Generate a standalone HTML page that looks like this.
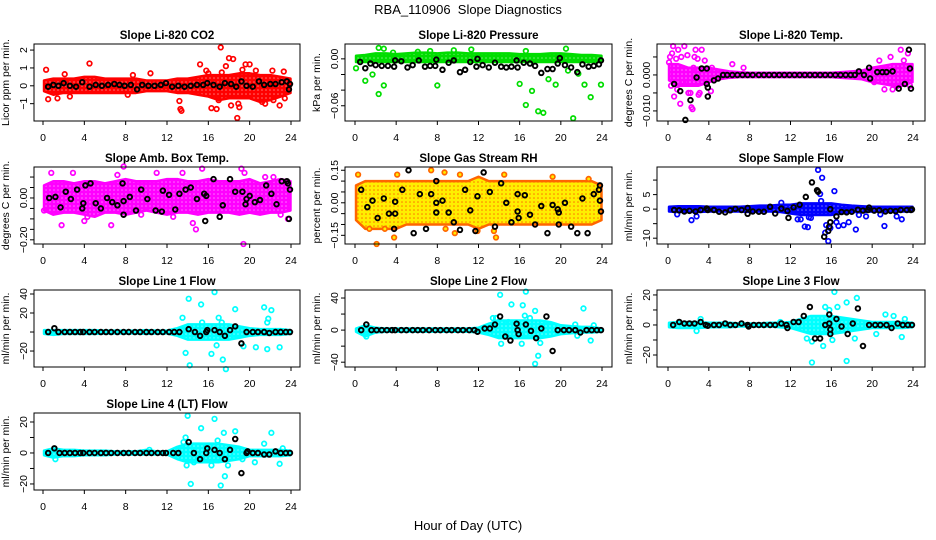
<!DOCTYPE html>
<html><head><meta charset="utf-8"><style>
html,body{margin:0;padding:0;background:#fff;}
svg{display:block;font-family:"Liberation Sans",sans-serif;}
</style></head><body>
<svg id="chart" width="936" height="540" viewBox="0 0 936 540">
<defs id="defs"></defs>
<rect width="936" height="540" fill="#fff"/>
<text x="468" y="14" text-anchor="middle" font-size="13">RBA_110906&#160; Slope Diagnostics</text>
<text x="468" y="530" text-anchor="middle" font-size="13">Hour of Day (UTC)</text>
</svg>
<script>
// ---------- data ----------
const hourTicks = [0,4,8,12,16,20,24];
const bandHours = [0,1,2,3,4,5,6,7,8,9,10,11,12,13,14,15,16,17,18,19,20,21,22,23,24];

// Panel 1 CO2
const co2Lo = [-0.3,-0.5,-0.4,-0.4,-0.4,-0.4,-0.4,-0.4,-0.4,-0.4,-0.3,-0.3,-0.3,-0.4,-0.4,-0.5,-0.6,-0.8,-0.7,-0.7,-0.7,-0.9,-0.8,-0.6,-0.4];
const co2Hi = [0.3,0.4,0.4,0.4,0.5,0.5,0.4,0.4,0.4,0.4,0.3,0.3,0.3,0.4,0.4,0.5,0.6,0.6,0.6,0.7,0.7,0.6,0.6,0.5,0.4];
const co2Out = [[0.3,0.9],[0.5,-0.75],[1.4,-0.7],[2.1,0.65],[2.6,-0.6],[4.5,1.25],[8.2,-0.5],[8.7,0.6],[10.4,0.7],[13.2,-0.85],[13.3,-1.3],[13.4,-1.4],[15.2,1.2],[15.8,0.85],[16.3,-1.25],[16.8,-1.3],[17.2,2.15],[17.3,0.75],[17.7,1.1],[18.0,1.55],[18.4,1.5],[18.2,-1.1],[18.8,-1.8],[18.9,-1.0],[19.0,-1.2],[19.3,0.9],[19.6,1.2],[20.0,1.2],[20.6,0.85],[21.2,-0.9],[22.2,0.85],[22.3,-0.8],[22.9,-1.1],[23.3,0.8],[23.4,-0.7],[21.5,-1.0],[17.0,-0.8],[16.0,0.7]];
const co2Black = [[0.5,-0.05],[1,0.05],[1.5,0],[2,0.15],[2.6,0],[3.2,-0.05],[3.8,0.2],[4.5,-0.05],[5.1,0.05],[5.7,0],[6.3,0.05],[6.9,0.1],[7.4,0.05],[7.9,0.0],[8.5,0.05],[9.1,-0.2],[9.6,0.05],[10.2,0],[10.8,0],[11.4,0.05],[11.9,0.15],[12.5,-0.05],[13.1,0],[13.7,-0.05],[14.3,0],[14.9,0.05],[15.5,0.05],[15.9,0.15],[16.5,0.05],[17.1,-0.05],[17.6,0.15],[18.2,0.1],[18.7,-0.05],[19.2,0.25],[19.7,0.0],[20.3,-0.05],[20.9,0.25],[21.4,0.05],[22.0,0.1],[22.5,0.1],[23.1,0.2],[23.6,0.25],[23.8,-0.2],[23.9,0.1]];
const co2Ticks = [-1,0,1,2];

// Panel 2 Pressure
const presLo = [-0.004,-0.004,-0.004,-0.004,-0.004,-0.004,-0.004,-0.004,-0.004,-0.004,-0.004,-0.004,-0.004,-0.004,-0.004,-0.004,-0.004,-0.004,-0.004,-0.004,-0.004,-0.004,-0.004,-0.004,-0.004];
const presHi = [0.004,0.005,0.007,0.007,0.006,0.007,0.008,0.008,0.007,0.008,0.008,0.007,0.007,0.007,0.007,0.007,0.006,0.006,0.006,0.007,0.007,0.006,0.005,0.005,0.004];
const presOut = [[0.1,-0.012],[1.0,-0.028],[1.7,-0.020],[2.3,0.014],[2.3,-0.045],[2.8,0.013],[2.8,-0.034],[8.0,-0.034],[9.6,0.011],[11.3,0.012],[16.0,-0.032],[16.6,-0.059],[16.6,0.01],[17.2,-0.041],[17.8,-0.067],[18.3,-0.069],[18.8,-0.026],[19.5,-0.033],[20.5,0.013],[21.2,-0.076],[22.3,-0.033],[22.9,-0.049],[23.9,-0.033],[20.7,-0.015],[21.7,-0.019],[3.7,0.008],[6.1,0.009],[7.3,0.01]];
const presBlack = [[0.5,-0.004],[1,-0.012],[1.5,-0.006],[2,-0.008],[2.6,-0.009],[3.2,-0.009],[3.8,-0.01],[3.9,-0.002],[4.5,-0.003],[5.1,-0.011],[5.6,-0.008],[6.2,-0.002],[6.8,-0.01],[7.3,-0.009],[7.8,-0.009],[7.9,-0.001],[8.5,-0.014],[9.1,-0.005],[9.6,-0.002],[10.2,-0.017],[10.7,-0.014],[11.2,-0.004],[11.8,-0.01],[11.9,0],[12.4,-0.008],[13.0,-0.011],[13.6,-0.005],[14.2,-0.01],[14.7,-0.011],[15.2,-0.01],[15.7,-0.002],[15.8,-0.011],[16.4,-0.005],[17.0,-0.006],[17.5,-0.009],[18.1,-0.018],[18.7,-0.013],[19.2,-0.013],[19.7,-0.006],[19.9,0.001],[20.4,-0.008],[21.0,-0.011],[21.6,-0.017],[22.1,-0.007],[22.7,-0.01],[23.2,-0.009],[23.7,-0.007],[23.9,-0.002]];
const presTicks = [-0.06,-0.04,-0.02,0.00];

// Panel 3 Li-820 Temp
const tempLo = [-0.0015,-0.003,-0.003,-0.003,-0.002,-0.0012,-0.0008,-0.0006,-0.0006,-0.0006,-0.0006,-0.0006,-0.0006,-0.0006,-0.0006,-0.0006,-0.0006,-0.0008,-0.001,-0.0012,-0.002,-0.0025,-0.003,-0.003,-0.002];
const tempHi = [0.003,0.003,0.002,0.002,0.002,0.0015,0.001,0.0008,0.0006,0.0006,0.0006,0.0006,0.0006,0.0006,0.0006,0.0006,0.0006,0.0008,0.001,0.0012,0.002,0.0025,0.003,0.003,0.003];
const tempOut = [[0.2,0.005],[0.5,0.008],[1.0,0.007],[1.6,0.008],[0.3,-0.003],[0.6,-0.006],[1.2,-0.008],[2.3,-0.009],[2.4,-0.0095],[2.7,0.007],[3.3,0.007],[6.3,0.003],[7.4,0.002],[22.8,0.007],[23.5,0.006],[21.2,-0.004],[22.0,-0.004],[23.1,0.004],[20.7,0.004],[3.0,-0.0055],[4.2,-0.0045],[0.1,0.0035],[0.4,0.006],[0.8,0.0045],[1.3,0.005],[1.9,0.0055],[2.0,-0.005],[2.2,-0.005],[2.6,0.005],[2.9,0.0045],[3.6,0.004],[3.1,-0.005],[0.9,-0.004],[1.5,-0.002],[2.5,0.002],[4.3,0.002],[21.8,0.005],[22.5,-0.003],[23.7,-0.003],[20.2,-0.002]];
const tempBlack = [[0.6,-0.0025],[1.2,-0.0045],[1.7,-0.0125],[2.2,-0.007],[2.8,-0.0007],[3.3,0.0018],[3.8,0.0018],[3.8,-0.0025],[3.9,-0.0035],[3.9,-0.006],[4.5,-0.0015],[4.9,-0.001],[5.4,0],[5.8,0],[6.3,0],[6.8,0],[7.3,0],[7.8,0],[8.3,0],[8.9,0],[9.4,0],[9.9,0],[10.4,0],[10.9,0],[11.4,0],[11.9,0],[12.4,0],[12.9,0],[13.4,0],[13.9,0],[14.4,0],[14.9,0],[15.4,0],[15.9,0],[16.4,0],[16.9,0],[17.4,0],[17.9,0],[18.3,0],[18.7,0.001],[19.2,0],[19.7,0.002],[19.8,-0.001],[20.5,0.0008],[21.0,0.0008],[21.4,0.0008],[22.0,0.001],[22.6,-0.0038],[23.2,-0.0025],[23.6,0.007],[23.7,0.0018],[23.8,-0.0038]];
const tempTicks = [-0.010,-0.005,0.000,0.005];

// Panel 4 Amb Box Temp
const ambLo = [-0.06,-0.08,-0.07,-0.07,-0.08,-0.09,-0.07,-0.07,-0.08,-0.07,-0.06,-0.07,-0.08,-0.07,-0.07,-0.08,-0.07,-0.07,-0.07,-0.08,-0.07,-0.08,-0.07,-0.07,-0.06];
const ambHi = [0.06,0.08,0.08,0.07,0.08,0.08,0.07,0.08,0.09,0.08,0.08,0.08,0.09,0.09,0.08,0.08,0.09,0.08,0.08,0.08,0.09,0.07,0.08,0.09,0.08];
const ambOut = [[0.8,0.12],[2.9,0.12],[1.8,-0.13],[4.0,-0.11],[6.6,-0.13],[7.8,0.15],[7.2,0.11],[11.0,0.12],[13.5,0.12],[14.5,-0.12],[14.8,-0.15],[15.4,0.14],[19.2,0.14],[19.4,-0.22],[19.5,0.12],[21.5,0.1],[23.7,-0.1],[23.0,-0.08],[9.5,-0.08],[0.1,-0.06],[22.3,0.1],[4.3,-0.09],[12.6,-0.09]];
const ambBlack = [[0.6,0.0],[1.2,0.005],[1.7,-0.045],[2.2,0.03],[2.7,-0.005],[3.3,0.04],[3.8,-0.05],[3.9,-0.025],[4.1,0.06],[4.6,0.07],[5.1,-0.025],[5.6,-0.05],[6.2,0.0],[6.7,-0.02],[7.2,-0.035],[7.7,0.07],[7.8,-0.015],[7.8,-0.08],[8.4,0.005],[9.0,-0.06],[9.5,0.04],[10.1,-0.005],[10.9,-0.06],[11.5,-0.065],[11.6,0.035],[12.2,0.015],[12.8,-0.055],[13.2,0.02],[13.8,0.04],[14.3,0.05],[14.9,-0.005],[15.6,0.02],[15.7,-0.11],[15.8,0.01],[16.5,0.09],[17.1,-0.09],[17.4,-0.035],[18.1,0.09],[18.6,0.03],[19.3,0.03],[19.6,-0.03],[19.7,-0.005],[20.0,0.01],[20.5,-0.02],[21.0,-0.01],[21.6,0.06],[22.1,0.02],[22.6,-0.03],[23.1,0.08],[23.6,0.08],[23.7,0.07],[23.8,-0.1],[23.9,0.04]];
const ambTicks = [-0.20,-0.15,-0.10,-0.05,0.00,0.05,0.10];

// Panel 5 Gas Stream RH
const rhLo = [-0.08,-0.12,-0.12,-0.12,-0.12,-0.1,-0.1,-0.1,-0.1,-0.1,-0.1,-0.1,-0.12,-0.1,-0.1,-0.1,-0.1,-0.1,-0.1,-0.1,-0.1,-0.1,-0.1,-0.1,-0.08];
const rhHi = [0.08,0.1,0.1,0.1,0.1,0.1,0.1,0.1,0.1,0.1,0.1,0.1,0.12,0.1,0.1,0.1,0.1,0.1,0.1,0.1,0.1,0.1,0.1,0.1,0.08];
const rhOut = [[0.3,0.13],[2.1,-0.19],[3.8,-0.16],[4.1,0.13],[7.4,0.15],[8.7,0.14],[8.8,-0.12],[9.7,-0.14],[10.2,0.13],[11.9,-0.13],[13.5,-0.13],[13.7,-0.16],[14.5,0.13],[19.2,0.12],[1.4,-0.12],[2.9,-0.12],[22.7,0.11]];
const rhBlack = [[0.6,0.06],[1.2,-0.02],[1.7,0.01],[2.2,-0.07],[2.8,0.02],[3.3,-0.05],[3.8,-0.12],[3.9,0.005],[3.9,-0.05],[4.6,0.06],[5.2,0.15],[5.7,-0.14],[6.3,0.04],[6.9,-0.12],[7.4,0.04],[7.9,0.1],[7.9,0.0],[7.9,-0.045],[8.5,0.01],[9.1,-0.045],[9.6,-0.09],[10.2,-0.125],[10.7,0.06],[11.2,-0.035],[11.7,-0.13],[11.9,0.03],[12.5,0.14],[13.1,0.05],[13.6,-0.11],[14.2,0.09],[14.7,0.0],[15.2,-0.09],[15.8,0.04],[15.8,-0.04],[15.9,-0.07],[16.5,0.035],[17.0,-0.055],[17.5,-0.1],[18.1,-0.015],[18.7,-0.14],[19.2,-0.01],[19.7,-0.03],[19.8,-0.045],[19.8,-0.1],[20.4,0.0],[21.0,-0.11],[21.6,-0.14],[22.1,0.02],[22.6,-0.14],[23.2,0.04],[23.7,0.06],[23.8,0.08],[23.8,0.01],[23.9,-0.04]];
const rhTicks = [-0.15,-0.10,-0.05,0.00,0.05,0.10,0.15];

// Panel 6 Sample Flow
const sfLo = [-0.8,-1,-1,-1,-0.8,-0.8,-0.8,-0.8,-1,-0.8,-0.8,-1,-1.5,-2,-2,-2,-2,-1.5,-1,-1,-0.8,-0.8,-0.8,-0.8,-0.8];
const sfHi = [0.8,1,1,1,0.8,0.8,0.8,0.8,1,1.2,1.2,1.5,1.5,2,2,2,2,1.5,1.2,1,0.8,0.8,0.8,0.8,0.8];
const sfOut = [[0.9,-1.8],[2.3,-3.8],[2.8,-2.5],[11.1,2.2],[13.4,-6],[13.7,-6.2],[13.8,-2.8],[14.0,-3],[14.7,13.5],[14.9,5.2],[15.0,2.8],[15.1,10.8],[15.4,-8.1],[15.5,-5.5],[15.7,-11],[15.9,-6.5],[16.3,6.2],[16.5,-4.5],[16.7,-5.8],[17.2,-5.5],[17.7,-4.5],[18.4,-7],[18.7,-2],[19.4,-2.5],[20.8,-1.8],[21.2,-5.8],[22.4,-2.5],[22.9,-3.5],[12.7,-3.5],[13.0,-3.5]];
const sfBlack = [[0.6,-0.3],[1.1,-0.4],[1.6,-0.8],[2.1,-0.6],[2.7,-0.8],[3.2,-0.3],[3.8,0.2],[3.9,-0.3],[4.5,-0.3],[5.0,-0.9],[5.6,-1.1],[6.1,-0.4],[6.6,0.1],[7.2,-0.3],[7.8,0.4],[7.8,-1.6],[8.3,-0.8],[8.9,-0.9],[9.4,-0.9],[10.0,0.8],[10.5,-1.5],[11.1,0.2],[11.7,-0.6],[11.8,-3],[12.3,0.6],[12.9,1.5],[13.5,4.2],[14.1,9.2],[14.6,6.5],[14.7,6],[15.3,-9.5],[15.7,-7.5],[15.8,-6],[15.9,-4.5],[15.9,0],[16.5,-2.5],[17.0,-1],[17.5,-1.1],[18.0,-0.9],[18.6,-0.2],[19.1,-0.5],[19.6,-0.3],[19.7,0.5],[20.2,-0.5],[20.7,-0.4],[21.3,-0.8],[21.8,-0.6],[22.3,-0.7],[22.8,-0.3],[23.4,-0.3],[23.8,-0.3],[23.9,-0.1]];
const sfTicks = [-10,-5,0,5,10];

// Panel 7 Line 1 Flow
const l1Lo = [-2,-3,-2,-2,-2,-2,-1.5,-1.5,-1.5,-1.5,-2,-1.5,-1.5,-4,-8,-8,-8,-8,-8,-6,-4,-3,-3,-3,-2];
const l1Hi = [2,2,2,2,2,2,1.5,1.5,1.5,1.5,2,1.5,1.5,4,8,8,8,8,8,6,4,3,3,3,2];
const l1Out = [[13.5,15],[13.8,-22],[14.1,35],[14.2,-35],[15.3,29],[15.4,10],[16.3,-23],[16.6,42],[17.0,15],[17.3,10],[17.4,-29],[17.7,-39],[18.6,24],[19.4,-15],[21.4,26],[21.7,10],[21.8,14],[22.1,23],[21.7,-18],[22.9,-16],[20.6,-16],[16.8,-14]];
const l1Black = [[0.5,0],[1.1,4],[1.5,0],[2.1,0],[2.6,0],[3.1,0],[3.6,0],[3.9,0],[4.5,0],[5.0,0],[5.6,0],[6.1,0],[6.6,0],[7.2,0],[7.8,0],[8.3,0],[8.9,0],[9.4,0],[10.0,0],[10.5,0],[11.1,0],[11.6,0],[12.2,0],[12.7,0],[13.2,0],[14.1,3],[14.7,0],[15.2,-4],[15.8,0],[15.9,2],[16.6,2],[17.1,0],[17.6,-4],[18.1,2],[18.6,6],[19.2,-12],[19.7,0],[20.3,0],[20.8,0],[21.4,0],[21.9,-1],[22.5,0],[23.0,0],[23.5,0],[23.9,0]];
const l1Ticks = [-20,0,20,40];

// Panel 8 Line 2 Flow
const l2Lo = [-2,-8,-3,-2,-2,-2,-2,-2,-2,-2,-2,-2,-3,-6,-10,-10,-10,-10,-10,-8,-5,-4,-3,-3,-2];
const l2Hi = [2,6,3,2,2,2,2,2,2,2,2,2,3,8,12,12,12,12,12,10,6,5,4,4,2];
const l2Out = [[1.1,-8],[13.4,15],[13.7,15],[14.1,44],[14.2,-17],[15.2,32],[16.3,31],[16.2,-17],[16.6,48],[17.0,15],[17.5,24],[17.5,-42],[17.8,-32],[18.0,-16],[22.2,27],[21.6,-7],[22.9,-13],[23.2,6],[21.4,7],[16.5,18],[14.9,10]];
const l2Black = [[0.6,0],[1.1,7],[1.6,0],[2.1,0],[2.6,0],[3.1,0],[3.6,0],[3.9,0],[4.5,0],[5.0,0],[5.6,0],[6.1,0],[6.6,0],[7.2,0],[7.8,0],[8.3,0],[8.9,0],[9.4,0],[10.0,0],[10.5,0],[11.1,0],[11.6,0],[11.9,-2],[12.6,2],[13.1,2],[13.6,7],[14.1,17],[14.6,-8],[15.1,-13],[15.7,8],[15.8,0],[15.9,-5],[16.6,7],[17.1,-1],[17.6,-10],[18.1,2],[18.6,17],[19.2,-26],[19.7,0],[20.3,0],[20.8,0],[21.4,0],[21.9,-3],[22.5,0],[23.0,0],[23.5,0],[23.9,0]];
const l2Ticks = [-40,-20,0,20,40];

// Panel 9 Line 3 Flow
const l3Lo = [-1.5,-2,-2,-2,-1.5,-1.5,-1.5,-1,-1,-1,-1,-1.5,-2,-4,-6,-6,-6,-5,-4,-3,-2,-2,-2,-2,-1.5];
const l3Hi = [1.5,2,2,2,1.5,1.5,1.5,1,1,1,1.5,1.5,2,4,6,6,6,5,4,3,2,2,2,2,1.5];
const l3Out = [[3.2,4],[2.8,-4],[11.0,2],[13.6,-9],[14.1,-11],[14.1,-25],[15.2,-14],[15.4,12],[15.8,10],[16.1,-10],[16.3,22],[16.6,12],[17.5,15],[17.5,-24],[18.3,-9],[18.5,18],[20.4,-6],[21.3,7],[22.1,6],[22.9,-8],[23.2,4]];
const l3Black = [[0.5,0],[1.1,2],[1.6,1],[2.1,1],[2.6,1],[3.2,2],[3.7,0],[3.9,-0.5],[4.5,0],[5.0,0],[5.6,1],[6.1,0],[6.6,0],[7.2,1],[7.8,0],[7.9,-1],[8.4,0],[8.9,0],[9.4,0],[10.0,0],[10.5,0],[11.1,1],[11.6,0],[11.7,-2],[12.3,2],[12.8,2],[13.3,6],[13.9,12],[14.4,-9],[14.9,-9],[15.4,0],[15.8,7],[15.8,1],[15.9,-3],[15.9,-6],[16.5,4],[17.0,-1],[17.6,-6],[18.1,1],[18.6,11],[19.1,-14],[19.7,0],[20.3,0],[20.8,0],[21.4,0],[21.9,-2],[22.5,1],[23.0,0],[23.5,0],[23.9,0]];
const l3Ticks = [-20,-10,0,10,20];

// Panel 10 Line 4 (LT) Flow
const l4Lo = [-1.5,-3,-2,-2,-1.5,-1.5,-1.5,-1,-1,-1,-1,-1,-1,-4,-6,-6,-6,-6,-5,-4,-2,-2,-2,-2,-1.5];
const l4Hi = [1.5,3,2,2,1.5,1.5,1.5,1,1,1,2,1,1,4,6,6,6,6,5,4,2,2,2,2,1.5];
const l4Out = [[1.2,-4],[10.3,2],[13.6,7],[13.8,10],[13.9,-8],[14.0,24],[14.3,-20],[14.6,-6],[15.3,16],[16.3,-8],[16.6,22],[16.9,8],[17.2,-21],[17.5,13],[17.6,-15],[17.9,-8],[18.6,14],[19.3,-4],[20.5,-6],[21.4,6],[22.1,13],[22.9,-7],[23.2,3]];
const l4Black = [[0.5,0],[1.1,3],[1.6,0],[2.1,0],[2.6,0],[3.1,0],[3.6,0],[3.9,0],[4.5,0],[5.0,0],[5.6,0],[6.1,0],[6.6,0],[7.2,0],[7.8,0],[8.3,0],[8.9,0],[9.4,0],[10.0,0],[10.5,0],[11.1,0],[11.6,0],[11.9,0],[12.6,0],[13.1,0],[14.1,7],[14.6,0],[15.2,-4],[15.8,0],[15.9,3],[16.6,2],[17.1,0],[17.6,-4],[18.1,2],[18.6,9],[19.2,-13],[19.7,0],[19.8,1],[20.3,0],[20.8,0],[21.4,-1],[21.9,-1],[22.5,1],[23.0,0],[23.5,0],[23.9,0]];
const l4Ticks = [-20,-10,0,10,20];

// ---------- layout ----------
const cols = [{l:34,r:300,x0:43,x24:291},{l:345,r:612,x0:355,x24:602},{l:657,r:925,x0:668,x24:913}];
const rows = [{t:44,b:121},{t:167,b:244},{t:290,b:367},{t:413,b:490}];

const panels = [
 {name:'co2',title:'Slope Li-820 CO2',ylab:'Licor ppm per min.',c:0,r:0,ymin:-1.97,ymax:2.34,color:'#ff0000',fill:'none',lo:co2Lo,hi:co2Hi,out:co2Out,blk:co2Black,ticks:co2Ticks,labels:['−1','0','1','2']},
 {name:'pressure',title:'Slope Li-820 Pressure',ylab:'kPa per min.',c:1,r:0,ymin:-0.0795,ymax:0.019,color:'#00dd00',fill:'none',lo:presLo,hi:presHi,out:presOut,blk:presBlack,ticks:presTicks,labels:['−0.06','','','0.00']},
 {name:'li820-temp',title:'Slope Li-820 Temp.',ylab:'degrees C per min.',c:2,r:0,ymin:-0.0128,ymax:0.0086,color:'#ff00ff',fill:'none',lo:tempLo,hi:tempHi,out:tempOut,blk:tempBlack,ticks:tempTicks,labels:['−0.010','','0.000','']},
 {name:'amb-box-temp',title:'Slope Amb. Box Temp.',ylab:'degrees C per min.',c:0,r:1,ymin:-0.22,ymax:0.148,color:'#ff00ff',fill:'none',lo:ambLo,hi:ambHi,out:ambOut,blk:ambBlack,ticks:ambTicks,labels:['−0.20','','','','0.00','','']},
 {name:'gas-stream-rh',title:'Slope Gas Stream RH',ylab:'percent per min.',c:1,r:1,ymin:-0.19,ymax:0.165,color:'#ff6600',fill:'#ffee00',lo:rhLo,hi:rhHi,out:rhOut,blk:rhBlack,ticks:rhTicks,labels:['−0.15','','','0.00','','','0.15']},
 {name:'sample-flow',title:'Slope Sample Flow',ylab:'ml/min per min.',c:2,r:1,ymin:-12,ymax:14.5,color:'#0000ff',fill:'none',lo:sfLo,hi:sfHi,out:sfOut,blk:sfBlack,ticks:sfTicks,labels:['−10','','0','5','']},
 {name:'line1-flow',title:'Slope Line 1 Flow',ylab:'ml/min per min.',c:0,r:2,ymin:-36.8,ymax:44.2,color:'#00ffff',fill:'none',lo:l1Lo,hi:l1Hi,out:l1Out,blk:l1Black,ticks:l1Ticks,labels:['−20','','20','40']},
 {name:'line2-flow',title:'Slope Line 2 Flow',ylab:'ml/min per min.',c:1,r:2,ymin:-46,ymax:50,color:'#00ffff',fill:'none',lo:l2Lo,hi:l2Hi,out:l2Out,blk:l2Black,ticks:l2Ticks,labels:['−40','','0','','40']},
 {name:'line3-flow',title:'Slope Line 3 Flow',ylab:'ml/min per min.',c:2,r:2,ymin:-28,ymax:23.3,color:'#00ffff',fill:'none',lo:l3Lo,hi:l3Hi,out:l3Out,blk:l3Black,ticks:l3Ticks,labels:['−20','','0','','20']},
 {name:'line4-flow',title:'Slope Line 4 (LT) Flow',ylab:'ml/min per min.',c:0,r:3,ymin:-23.9,ymax:25.8,color:'#00ffff',fill:'none',lo:l4Lo,hi:l4Hi,out:l4Out,blk:l4Black,ticks:l4Ticks,labels:['−20','','0','','20']}
];

const NS='http://www.w3.org/2000/svg';
const svg=document.getElementById('chart');
const defs=document.getElementById('defs');
function mk(tag,attrs,parent){const e=document.createElementNS(NS,tag);for(const k in attrs)e.setAttribute(k,attrs[k]);parent.appendChild(e);return e;}

panels.forEach((p,pi)=>{
  const C=cols[p.c],R=rows[p.r];
  const xs=h=>C.x0+(C.x24-C.x0)*h/24;
  const ys=v=>R.b-(R.b-R.t)*(v-p.ymin)/(p.ymax-p.ymin);
  // texture pattern of overlapping rings
  const pat=mk('pattern',{id:'pat'+pi,width:4,height:4,patternUnits:'userSpaceOnUse'},defs);
  mk('rect',{width:4,height:4,fill:p.fill==='none'?p.color:p.fill},pat);
  mk('circle',{cx:2,cy:2,r:0.8,fill:p.fill==='none'?'#fff':p.color,opacity:p.fill==='none'?0.45:0.9},pat);
  const g=mk('g',{},svg);
  
  
  const t=mk('text',{x:(C.l+C.r)/2,y:R.t-5,'text-anchor':'middle','font-size':'11.5','font-weight':'bold'},g);
  t.textContent=p.title;
  
  
  const cx=C.l-25,cy=(R.t+R.b)/2;
  const yl=mk('text',{x:cx,y:cy,'text-anchor':'middle','font-size':'10.5',transform:`rotate(-90 ${cx} ${cy})`},g);
  yl.textContent=p.ylab;
  
  
  // band
  let pts=bandHours.map((h,i)=>xs(Math.max(0.1,Math.min(23.95,h)))+','+ys(p.hi[i]));
  pts=pts.concat(bandHours.slice().reverse().map((h,j)=>{const i=bandHours.length-1-j;return xs(Math.max(0.1,Math.min(23.95,h)))+','+ys(p.lo[i]);}));
  const band=mk('polygon',{points:pts.join(' '),fill:'url(#pat'+pi+')',stroke:p.color,'stroke-width':'2.5','stroke-linejoin':'round'},g);
  
  
  p.out.forEach(d=>{
    const c=mk('circle',{cx:xs(d[0]),cy:ys(d[1]),r:2.3,fill:p.fill==='none'?'none':p.fill,stroke:p.color,'stroke-width':'1.7'},g);
    
    
  });
  p.blk.forEach(d=>{
    const c=mk('circle',{cx:xs(d[0]),cy:ys(d[1]),r:2.3,fill:'none',stroke:'#000','stroke-width':'1.9'},g);
    
    
  });
  const box=mk('rect',{x:C.l,y:R.t,width:C.r-C.l,height:R.b-R.t,fill:'none',stroke:'#000','stroke-width':'1'},g);
  
  
  hourTicks.forEach(h=>{
    mk('line',{x1:xs(h),x2:xs(h),y1:R.b,y2:R.b+4,stroke:'#000'},g);
    const tl=mk('text',{x:xs(h),y:R.b+20,'text-anchor':'middle','font-size':'10.5'},g);
    tl.textContent=String(h);
    
    
  });
  p.ticks.forEach((v,i)=>{
    const y=ys(v);
    mk('line',{x1:C.l-4,x2:C.l,y1:y,y2:y,stroke:'#000'},g);
    if(p.labels[i]){
      const lx=C.l-7;
      const tl=mk('text',{x:lx,y:y,'text-anchor':'middle','font-size':'10.5',transform:`rotate(-90 ${lx} ${y})`},g);
      tl.textContent=p.labels[i];
      
      
    }
  });
});
</script>
</body></html>
